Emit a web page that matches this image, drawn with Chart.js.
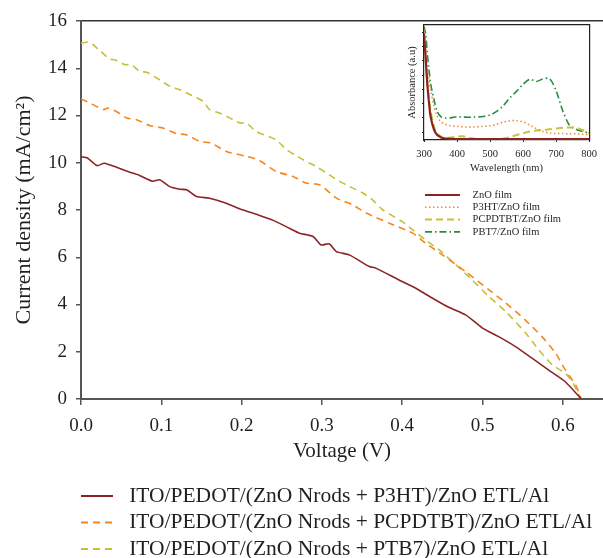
<!DOCTYPE html>
<html><head><meta charset="utf-8">
<script src="https://cdn.jsdelivr.net/npm/chart.js@4/dist/chart.umd.min.js"></script>
<style>
html,body{margin:0;padding:0;background:#fff;}
#wrap{position:relative;width:603px;height:558px;overflow:hidden;background:#fff;}
#main{position:absolute;left:0;top:0;}
#inset{position:absolute;left:390px;top:0;}
</style></head><body>
<div id="wrap"><canvas id="main" width="603" height="558"></canvas><canvas id="inset" width="213" height="245"></canvas></div>
<script>
// ---------- main J-V chart data ----------
const voltageTicks = [0, 0.1, 0.2, 0.3, 0.4, 0.5, 0.6];
const currentTicks = [0, 2, 4, 6, 8, 10, 12, 14, 16];
const xTitle = 'Voltage (V)';
const yTitle = 'Current density (mA/cm\u00B2)';
const seriesLabels = [
  'ITO/PEDOT/(ZnO Nrods + P3HT)/ZnO ETL/Al',
  'ITO/PEDOT/(ZnO Nrods + PCPDTBT)/ZnO ETL/Al',
  'ITO/PEDOT/(ZnO Nrods + PTB7)/ZnO ETL/Al'
];
const p3htV = [0, 0.008, 0.02, 0.029, 0.045, 0.061, 0.073, 0.089, 0.098, 0.11, 0.123, 0.132, 0.144, 0.16, 0.18, 0.2, 0.22, 0.24, 0.26, 0.272, 0.289, 0.299, 0.309, 0.318, 0.334, 0.359, 0.367, 0.396, 0.417, 0.434, 0.458, 0.479, 0.5, 0.52, 0.541, 0.562, 0.582, 0.603, 0.623];
const p3htJ = [10.25, 10.2, 9.88, 9.98, 9.8, 9.6, 9.46, 9.22, 9.28, 9.0, 8.88, 8.85, 8.57, 8.5, 8.3, 8.02, 7.8, 7.55, 7.22, 7.02, 6.88, 6.52, 6.57, 6.24, 6.1, 5.61, 5.54, 5.04, 4.69, 4.34, 3.88, 3.56, 3.0, 2.64, 2.22, 1.72, 1.23, 0.73, 0];
const pcpdtbtV = [0, 0.011, 0.028, 0.034, 0.046, 0.057, 0.069, 0.086, 0.102, 0.119, 0.131, 0.148, 0.162, 0.181, 0.206, 0.222, 0.243, 0.264, 0.28, 0.297, 0.318, 0.338, 0.355, 0.384, 0.413, 0.429, 0.45, 0.479, 0.508, 0.529, 0.553, 0.574, 0.591, 0.603, 0.616, 0.623];
const pcpdtbtJ = [12.7, 12.53, 12.25, 12.32, 12.13, 11.89, 11.82, 11.57, 11.47, 11.23, 11.19, 10.9, 10.83, 10.48, 10.27, 10.1, 9.63, 9.42, 9.14, 9.07, 8.5, 8.22, 7.87, 7.44, 7.02, 6.6, 6.1, 5.39, 4.62, 4.06, 3.35, 2.64, 1.94, 1.23, 0.59, 0];
const ptb7V = [0, 0.011, 0.015, 0.024, 0.036, 0.042, 0.055, 0.063, 0.073, 0.082, 0.094, 0.111, 0.123, 0.136, 0.152, 0.16, 0.173, 0.185, 0.198, 0.206, 0.218, 0.243, 0.256, 0.268, 0.28, 0.293, 0.309, 0.322, 0.334, 0.351, 0.363, 0.376, 0.4, 0.413, 0.429, 0.446, 0.467, 0.487, 0.508, 0.529, 0.554, 0.57, 0.587, 0.603, 0.612, 0.618, 0.623];
const ptb7J = [15.07, 15.11, 15.0, 14.72, 14.39, 14.36, 14.15, 14.15, 13.87, 13.83, 13.59, 13.23, 13.09, 12.88, 12.6, 12.25, 12.1, 11.9, 11.68, 11.68, 11.33, 10.97, 10.55, 10.3, 10.06, 9.84, 9.49, 9.21, 9.0, 8.72, 8.43, 8.0, 7.51, 7.16, 6.74, 6.31, 5.68, 5.04, 4.33, 3.7, 2.78, 2.08, 1.44, 1.09, 0.73, 0.31, 0];

// ---------- inset absorbance data ----------
const wavelength = [300, 305, 310, 315, 320, 330, 340, 350, 360, 380, 400, 420, 450, 480, 500, 520, 540, 560, 580, 600, 620, 640, 660, 680, 700, 720, 740, 760, 780, 800];
const wavelengthTicks = [300, 400, 500, 600, 700, 800];
const absorbanceTicks = [0, 1, 2, 3, 4, 5, 6, 7];
const insetXTitle = 'Wavelength (nm)';
const insetYTitle = 'Absorbance (a.u)';
const filmLabels = ['ZnO film', 'P3HT/ZnO film', 'PCPDTBT/ZnO film', 'PBT7/ZnO film'];
const absZnO     = [6.9, 5.2, 3.4, 2.1, 1.1, 0.2, -0.2, -0.35, -0.43, -0.47, -0.48, -0.48, -0.48, -0.48, -0.48, -0.48, -0.48, -0.48, -0.48, -0.48, -0.48, -0.48, -0.48, -0.48, -0.48, -0.48, -0.48, -0.48, -0.48, -0.48];
const absP3HT    = [7.2, 5.8, 4.6, 3.7, 3.0, 1.8, 1.1, 0.75, 0.6, 0.45, 0.4, 0.37, 0.36, 0.4, 0.45, 0.55, 0.7, 0.8, 0.8, 0.72, 0.5, 0.25, 0.05, -0.05, -0.1, -0.1, -0.12, -0.12, -0.15, -0.18];
const absPCPDTBT = [6.7, 5.0, 3.4, 2.3, 1.5, 0.4, -0.07, -0.3, -0.4, -0.38, -0.32, -0.3, -0.45, -0.53, -0.53, -0.5, -0.45, -0.35, -0.2, -0.08, 0.05, 0.12, 0.15, 0.2, 0.25, 0.3, 0.33, 0.3, 0.15, -0.05];
const absPBT7    = [7.4, 6.9, 5.5, 4.4, 3.4, 2.3, 1.45, 1.1, 1.0, 1.0, 1.08, 1.05, 1.05, 1.1, 1.2, 1.45, 1.85, 2.4, 2.85, 3.35, 3.7, 3.55, 3.72, 3.75, 2.9, 1.5, 0.5, 0.2, 0.05, -0.05];

const TEXT = '#231f20';
const SERIF = "'Liberation Serif', 'Times New Roman', serif";
Chart.defaults.font.family = SERIF;
Chart.defaults.color = TEXT;

const pts = (xs, ys) => xs.map((x, i) => ({x: x, y: ys[i]}));
const placeLegend = (left, top) => ({
  id: 'placeLegend',
  afterLayout(chart) { if (chart.legend) { chart.legend.left = left; chart.legend.top = top; } }
});
const baseLabels = Chart.defaults.plugins.legend.labels.generateLabels;
const lineLabels = (prefix, minWidth) => (chart) => baseLabels(chart).map(l => {
  const ds = chart.data.datasets[l.datasetIndex];
  return Object.assign(l, {
    text: prefix + l.text,
    lineDash: ds.borderDash || [],
    lineWidth: Math.max(ds.borderWidth, minWidth),
    strokeStyle: ds.borderColor
  });
});

new Chart(document.getElementById('main'), {
  type: 'line',
  data: {
    datasets: [
      {label: seriesLabels[0], data: pts(p3htV, p3htJ), borderColor: '#8b2525', borderWidth: 1.6, pointRadius: 0, tension: 0.2, fill: false},
      {label: seriesLabels[1], data: pts(pcpdtbtV, pcpdtbtJ), borderColor: '#f7861f', borderWidth: 1.6, borderDash: [7, 5], pointRadius: 0, tension: 0.2, fill: false},
      {label: seriesLabels[2], data: pts(ptb7V, ptb7J), borderColor: '#c4c03a', borderWidth: 1.6, borderDash: [7, 5], pointRadius: 0, tension: 0.2, fill: false}
    ]
  },
  options: {
    responsive: false, animation: false, devicePixelRatio: 1,
    layout: {padding: {left: 0, right: 0, top: 21, bottom: 0}},
    plugins: {
      tooltip: {enabled: false},
      legend: {
        display: true, position: 'bottom', align: 'start',
        labels: {
          usePointStyle: true, pointStyle: 'line', pointStyleWidth: 32, padding: 5,
          font: {size: 21.5, family: SERIF}, color: TEXT,
          generateLabels: lineLabels(' ', 1.8)
        }
      }
    },
    scales: {
      x: {
        type: 'linear', position: 'bottom', min: 0, max: 0.65,
        afterBuildTicks: s => { s.ticks = voltageTicks.map(v => ({value: v})); },
        afterFit: s => { s.height = 69.5; },
        ticks: {font: {size: 19}, color: TEXT, padding: 10, maxRotation: 0, autoSkip: false, callback: v => Number(v).toFixed(1)},
        grid: {display: true, drawOnChartArea: false, drawTicks: true, tickLength: 6, color: '#555', lineWidth: 1.5},
        border: {display: true, color: '#555', width: 2},
        title: {display: true, text: xTitle, font: {size: 21}, color: TEXT, padding: {top: 0, bottom: 4}}
      },
      xTop: {
        type: 'linear', position: 'top', min: 0, max: 0.65,
        ticks: {display: false}, grid: {display: false, drawTicks: false},
        border: {display: true, color: '#333', width: 1.5},
        afterFit: s => { s.height = 0; }
      },
      y: {
        type: 'linear', position: 'left', min: 0, max: 16,
        afterBuildTicks: s => { s.ticks = currentTicks.map(v => ({value: v})); },
        afterFit: s => { s.width = 81; },
        ticks: {font: {size: 19}, color: TEXT, padding: 9},
        grid: {display: true, drawOnChartArea: false, drawTicks: true, tickLength: 5, color: '#555', lineWidth: 1.5},
        border: {display: true, color: '#555', width: 2},
        title: {display: true, text: yTitle, font: {size: 22}, color: TEXT, padding: {top: 11, bottom: 0}}
      }
    }
  },
  plugins: [placeLegend(76, 480.25)]
});

new Chart(document.getElementById('inset'), {
  type: 'line',
  data: {
    datasets: [
      {label: filmLabels[0], data: pts(wavelength, absZnO), borderColor: '#8b2323', borderWidth: 2.2, pointRadius: 0, tension: 0.3, fill: false},
      {label: filmLabels[1], data: pts(wavelength, absP3HT), borderColor: '#f08a30', borderWidth: 1.5, borderDash: [1.5, 2.5], pointRadius: 0, tension: 0.3, fill: false},
      {label: filmLabels[2], data: pts(wavelength, absPCPDTBT), borderColor: '#c9c23a', borderWidth: 2, borderDash: [7, 4], pointRadius: 0, tension: 0.3, fill: false},
      {label: filmLabels[3], data: pts(wavelength, absPBT7), borderColor: '#2a8a44', borderWidth: 1.6, borderDash: [7, 3, 1.5, 3], pointRadius: 0, tension: 0.3, fill: false}
    ]
  },
  options: {
    responsive: false, animation: false, devicePixelRatio: 1,
    layout: {padding: {left: 0, right: 10, top: 25, bottom: 0}},
    plugins: {
      tooltip: {enabled: false},
      legend: {
        display: true, position: 'bottom', align: 'start',
        labels: {
          usePointStyle: true, pointStyle: 'line', pointStyleWidth: 35, padding: 1.8,
          font: {size: 10.5, family: SERIF}, color: TEXT,
          generateLabels: lineLabels('\u2002\u2009', 1.5)
        }
      }
    },
    scales: {
      x: {
        type: 'linear', position: 'bottom', min: 300, max: 800,
        afterBuildTicks: s => { s.ticks = wavelengthTicks.map(v => ({value: v})); },
        afterFit: s => { s.height = 45.8; },
        ticks: {font: {size: 10.5}, color: TEXT, padding: 6, maxRotation: 0, autoSkip: false},
        grid: {display: true, drawOnChartArea: false, drawTicks: true, tickLength: 2, color: '#222', lineWidth: 1},
        border: {display: true, color: '#222', width: 1.2},
        title: {display: true, text: insetXTitle, font: {size: 10.5}, color: TEXT, padding: {top: 0, bottom: 11.5}}
      },
      xTop: {
        type: 'linear', position: 'top', min: 300, max: 800,
        ticks: {display: false}, grid: {display: false, drawTicks: false},
        border: {display: true, color: '#222', width: 1.2},
        afterFit: s => { s.height = 0; }
      },
      y: {
        type: 'linear', position: 'left', min: -0.55, max: 7.5,
        afterBuildTicks: s => { s.ticks = absorbanceTicks.map(v => ({value: v})); },
        afterFit: s => { s.width = 34; },
        ticks: {display: false},
        grid: {display: true, drawOnChartArea: false, drawTicks: true, tickLength: 2, color: '#222', lineWidth: 1},
        border: {display: true, color: '#222', width: 1.2},
        title: {display: true, text: insetYTitle, font: {size: 10.5}, color: TEXT, padding: {top: 16, bottom: 0}}
      },
      yRight: {
        type: 'linear', position: 'right', min: -0.55, max: 7.5,
        ticks: {display: false}, grid: {display: false, drawTicks: false},
        border: {display: true, color: '#222', width: 1.2},
        afterFit: s => { s.width = 0; }
      }
    }
  },
  plugins: [placeLegend(33.2, 187.95)]
});
</script></body></html>
